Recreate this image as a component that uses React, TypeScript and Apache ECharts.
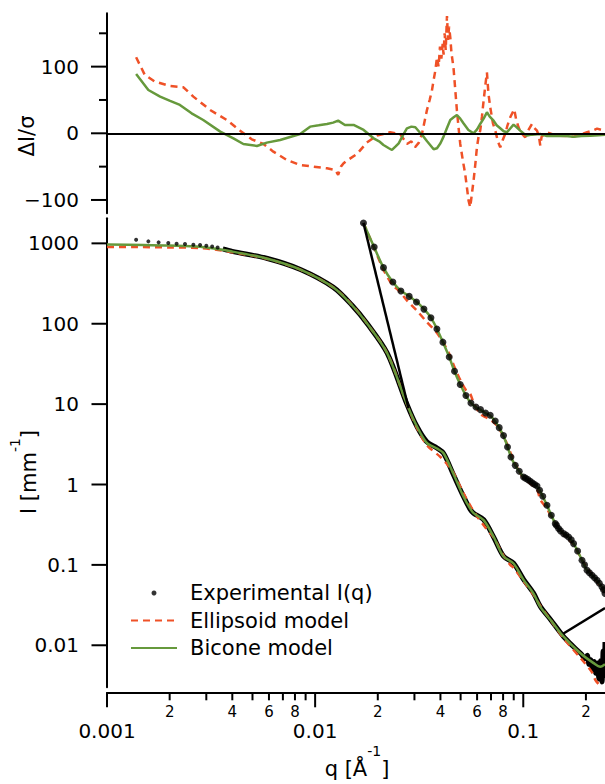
import React, { useEffect, useRef } from "react";
import * as echarts from "echarts";

const FONT = "DejaVu Sans";
const RED = "#ef5127";
const GREEN = "#66993c";
const BLACK = "#000000";

const Q_MIN = 0.001;
const Q_MAX = 0.247;
const I_MIN = 0.003;
const I_MAX = 2050;
const R_MIN = -120;
const R_MAX = 180;

// ---- tick values / labels ----
const qTickValues = [0.001, 0.002, 0.003, 0.004, 0.005, 0.006, 0.007, 0.008, 0.009, 0.01, 0.02, 0.03, 0.04, 0.05, 0.06, 0.07, 0.08, 0.09, 0.1, 0.2];
const qTickLabels = ["0.001", "2", "", "4", "", "6", "", "8", "", "0.01", "2", "", "4", "", "6", "", "8", "", "0.1", "2"];
const qTickMajor = [true, false, false, false, false, false, false, false, false, true, false, false, false, false, false, false, false, false, true, false];

const iTickValues = [1000, 100, 10, 1, 0.1, 0.01];
const iTickLabels = ["1000", "100", "10", "1", "0.1", "0.01"];

const rTickValues = [150, 100, 50, 0, -50, -100];
const rTickLabels = ["", "100", "", "0", "", "\u2212100"];

// ---- residuals ΔI/σ (q, value) ----
const biconeResidual: [number, number][] = [
  [0.00138, 89], [0.00158, 65], [0.0018, 55], [0.00201, 48.5], [0.00224, 42.5], [0.00255, 30], [0.0029, 20],
  [0.0035, 2.5], [0.00405, -7.5], [0.00452, -16], [0.00525, -19], [0.00586, -14], [0.00679, -10], [0.00847, -1],
  [0.00946, 10], [0.0104, 12], [0.0114, 14], [0.0122, 16], [0.0129, 19], [0.0139, 12.5], [0.0153, 12.5],
  [0.0171, 5], [0.0191, -7.5], [0.0203, -12], [0.0213, -17.5], [0.0225, -22], [0.0234, -25], [0.0243, -20],
  [0.0252, -15], [0.0264, -3], [0.0276, 7.5], [0.029, 10], [0.0303, 9], [0.0317, 2], [0.0332, -5], [0.0345, -12],
  [0.0357, -17.5], [0.0371, -24], [0.0385, -22.5], [0.04, -15], [0.0414, -5], [0.043, 8], [0.0446, 20],
  [0.0463, 24], [0.048, 27.5], [0.0498, 22], [0.0516, 15], [0.0545, 5], [0.0577, 0], [0.06, 6], [0.0621, 14],
  [0.0645, 22], [0.0669, 31.5], [0.069, 25], [0.072, 19], [0.0745, 12], [0.0775, 7.5], [0.0805, 3], [0.0835, 1.5],
  [0.087, 8], [0.0898, 13], [0.093, 9], [0.0967, 4], [0.1, 0], [0.1042, -3.5], [0.11, -2], [0.1207, -1],
  [0.13, -4], [0.1452, -3.5], [0.16, -4], [0.1745, -5], [0.19, -4], [0.21, -3.5], [0.23, -3], [0.247, -2],
];

const ellipsoidResidual: [number, number][] = [
  [0.00138, 114], [0.00152, 87.5], [0.0017, 77.5], [0.00201, 71], [0.00233, 69], [0.0026, 55], [0.00313, 35],
  [0.00376, 20], [0.00436, 4], [0.00496, -9], [0.00564, -16], [0.0063, -27.5], [0.00731, -40], [0.00847, -47.5],
  [0.00981, -50], [0.0114, -52.5], [0.0125, -55], [0.0129, -62.5], [0.0133, -50], [0.0137, -45], [0.0142, -41],
  [0.0159, -31], [0.0177, -14], [0.0198, -3.5], [0.0229, 1.5], [0.0256, -1], [0.0276, -16], [0.029, -12],
  [0.0302, -21], [0.0315, -14], [0.0326, -1], [0.0344, 34], [0.0355, 50], [0.0364, 64], [0.0371, 80],
  [0.0378, 94], [0.0385, 114], [0.0392, 100], [0.0398, 130], [0.0404, 112], [0.041, 134], [0.0414, 118],
  [0.0419, 150], [0.0424, 125], [0.043, 176], [0.0435, 140], [0.044, 160], [0.0446, 144], [0.0452, 120],
  [0.0462, 99], [0.047, 70], [0.048, 34], [0.049, 5], [0.0498, -16], [0.0512, -40], [0.0526, -61], [0.0538, -85],
  [0.0546, -101], [0.0556, -111], [0.0567, -90], [0.0577, -71], [0.0589, -45], [0.0599, -21], [0.061, -5],
  [0.0621, 4], [0.0633, 25], [0.0645, 49], [0.0656, 70], [0.0669, 91.5], [0.068, 60], [0.0694, 39], [0.0715, 15],
  [0.0734, 4], [0.0755, -12], [0.0775, -21], [0.0797, -10], [0.0819, -1], [0.084, 12], [0.0866, 24], [0.0885, 30],
  [0.0905, 36], [0.0925, 20], [0.0949, 9], [0.098, 0], [0.1022, -6], [0.106, 5], [0.1101, 14], [0.113, 8],
  [0.1164, 4], [0.119, -5], [0.1207, -18.5], [0.1225, -5], [0.13, 1.5], [0.14, -2], [0.1506, -3.5], [0.162, -4],
  [0.1745, -5], [0.188, -2], [0.2025, 1.5], [0.215, 4], [0.2262, 7], [0.238, 5], [0.247, 5.5],
];

// ---- intensity I(q) [mm^-1] ----
const experimentalLowQ: [number, number][] = [
  [0.00138, 1112], [0.00158, 1059], [0.00177, 1029], [0.00197, 1009], [0.00216, 991], [0.00237, 980],
  [0.0026, 963], [0.0028, 952], [0.003, 935], [0.0032, 915], [0.0034, 890],
];

const experimentalDense: [number, number][] = [
  [0.0036, 855], [0.004, 795], [0.0059, 648], [0.0085, 473], [0.0122, 285], [0.015, 171], [0.0178, 100],
  [0.0222, 43], [0.0276, 10], [0.0308, 5.3], [0.0344, 3.4], [0.0385, 2.85], [0.0414, 2.45], [0.0462, 1.32],
  [0.0516, 0.71], [0.0556, 0.49], [0.0577, 0.44], [0.0645, 0.365], [0.072, 0.222], [0.0804, 0.128],
  [0.0898, 0.105], [0.1003, 0.066], [0.112, 0.0445], [0.1207, 0.0305], [0.1354, 0.0208], [0.1562, 0.0128],
  [0.175, 0.0095], [0.19, 0.0078], [0.198, 0.0068], [0.203, 0.0075], [0.207, 0.0058], [0.211, 0.0066],
  [0.215, 0.005], [0.219, 0.0063], [0.223, 0.0045], [0.227, 0.006], [0.231, 0.0038], [0.235, 0.0064],
  [0.239, 0.0035], [0.242, 0.0085], [0.245, 0.0042], [0.247, 0.011],
];

const ellipsoidModel: [number, number][] = [
  [0.001, 900], [0.0014, 900], [0.002, 890], [0.0028, 875], [0.004, 775], [0.0059, 640], [0.0085, 470],
  [0.0122, 285], [0.015, 172], [0.0178, 100], [0.0222, 43], [0.0276, 10], [0.0308, 5.1], [0.0344, 3.1],
  [0.04, 2.2], [0.043, 1.8], [0.0462, 1.4], [0.0516, 0.78], [0.0563, 0.52], [0.06, 0.4], [0.0659, 0.29],
  [0.072, 0.22], [0.0804, 0.13], [0.0866, 0.1], [0.0898, 0.092], [0.1003, 0.063], [0.1146, 0.039],
  [0.1207, 0.031], [0.1354, 0.0205], [0.1562, 0.0122], [0.1888, 0.0069], [0.214, 0.0046], [0.222, 0.0037],
  [0.235, 0.0031],
];

const biconeModel: [number, number][] = [
  [0.001, 965], [0.0015, 955], [0.002, 940], [0.0028, 905], [0.004, 790], [0.0059, 645], [0.0085, 472],
  [0.0122, 284], [0.015, 171], [0.0178, 100], [0.0222, 43], [0.0276, 10], [0.0308, 5.3], [0.0344, 3.3],
  [0.0385, 2.8], [0.0414, 2.45], [0.0462, 1.35], [0.0516, 0.71], [0.0556, 0.5], [0.0577, 0.44], [0.0645, 0.36],
  [0.072, 0.224], [0.0804, 0.127], [0.0898, 0.104], [0.1003, 0.065], [0.112, 0.044], [0.1207, 0.03],
  [0.1354, 0.0206], [0.1562, 0.0128], [0.1888, 0.0079], [0.2178, 0.006], [0.2345, 0.0054], [0.247, 0.0058],
];

// ---- magnified high-q copy (inset) ----
const insetExperimental: [number, number][] = [
  [0.01707, 1788], [0.01922, 900], [0.0213, 499], [0.02363, 330], [0.02582, 255], [0.02831, 219], [0.03069, 186],
  [0.03332, 152], [0.036, 119], [0.03847, 86], [0.04111, 59], [0.04408, 38.5], [0.04674, 25.6], [0.04978, 17.5],
  [0.05303, 12.8], [0.05605, 10.3], [0.05924, 9.2], [0.06233, 8.54], [0.06589, 7.75], [0.06939, 7.26],
  [0.07335, 6.16], [0.07664, 5.1], [0.08038, 4.06], [0.08402, 2.93], [0.08727, 2.2], [0.09153, 1.73],
  [0.09567, 1.46], [0.1003, 1.24], [0.1025, 1.2], [0.1053, 1.15], [0.108, 1.1], [0.1108, 1.04], [0.1135, 1.0],
  [0.1164, 0.958], [0.1198, 0.847], [0.1241, 0.713], [0.13, 0.551], [0.1364, 0.414], [0.1425, 0.326],
  [0.1445, 0.31], [0.1478, 0.283], [0.151, 0.265], [0.1562, 0.245], [0.1605, 0.235], [0.1651, 0.222],
  [0.17, 0.205], [0.1745, 0.184], [0.1824, 0.149], [0.1915, 0.114], [0.197, 0.1], [0.2025, 0.0857],
  [0.208, 0.08], [0.214, 0.0742], [0.22, 0.069], [0.2262, 0.0643], [0.232, 0.059], [0.239, 0.0531],
  [0.243, 0.049], [0.247, 0.044],
];

const insetBicone: [number, number][] = [
  [0.01707, 1790], [0.0192, 900], [0.0213, 499], [0.0236, 330], [0.0258, 258], [0.0283, 220], [0.0307, 188],
  [0.0333, 153], [0.036, 119], [0.0385, 86], [0.0411, 59], [0.0441, 38.5], [0.0467, 25.6], [0.0498, 17.5],
  [0.053, 12.8], [0.056, 10.4], [0.0592, 9.1], [0.0623, 8.5], [0.0659, 7.7], [0.0694, 7.2], [0.0733, 6.1],
  [0.0766, 5.1], [0.0804, 4.0], [0.084, 2.95], [0.0873, 2.2], [0.0915, 1.73], [0.0957, 1.46], [0.1003, 1.24],
  [0.1053, 1.14], [0.1108, 1.04], [0.1164, 0.95], [0.1198, 0.85], [0.1241, 0.71], [0.13, 0.55], [0.1364, 0.414],
  [0.1425, 0.326], [0.1478, 0.283], [0.1562, 0.245], [0.1651, 0.222], [0.1745, 0.184], [0.1824, 0.149],
  [0.1915, 0.114], [0.2025, 0.0857], [0.214, 0.0742], [0.2262, 0.0643], [0.239, 0.053], [0.247, 0.046],
];

const insetEllipsoid: [number, number][] = [
  [0.01707, 1790], [0.0192, 880], [0.0213, 470], [0.0236, 300], [0.0252, 260], [0.0276, 195], [0.0305, 150],
  [0.0344, 105], [0.038, 80], [0.041, 60], [0.0441, 42], [0.0467, 29], [0.0498, 20], [0.053, 15], [0.0556, 13.5],
  [0.058, 10], [0.0623, 7.5], [0.0659, 6.9], [0.0694, 6.4], [0.0733, 5.7], [0.0766, 4.9], [0.0804, 4.0],
  [0.084, 3.1], [0.0873, 2.4], [0.0915, 1.8], [0.0957, 1.45], [0.1003, 1.2], [0.1053, 1.08], [0.1108, 0.98],
  [0.1164, 0.88], [0.1207, 0.65], [0.13, 0.5], [0.1354, 0.41], [0.1425, 0.33], [0.1598, 0.226], [0.1745, 0.18],
  [0.1915, 0.115], [0.2062, 0.0857], [0.214, 0.075], [0.2262, 0.062], [0.247, 0.045],
];

// zoom connector lines (main curve -> magnified copy)
const connectorUpper: [number, number][] = [[0.0281, 8.9], [0.01707, 1790]];
const connectorLower: [number, number][] = [[0.156, 0.014], [0.247, 0.029]];

const tickStyle = { stroke: BLACK, lineWidth: 2 };

function renderQTicks(params: any, api: any) {
  const i = params.dataIndex;
  const p = api.coord([qTickValues[i], I_MIN]);
  const y0 = p[1] + 5;
  const major = qTickMajor[i];
  const children: any[] = [
    { type: "line", shape: { x1: p[0], y1: y0, x2: p[0], y2: y0 + (major ? 15 : 8) }, style: tickStyle },
  ];
  if (qTickLabels[i]) {
    children.push({
      type: "text",
      x: p[0],
      y: y0 + (major ? 39 : 20),
      style: {
        text: qTickLabels[i],
        fontSize: major ? 20 : 15,
        fontFamily: FONT,
        fill: BLACK,
        align: "center",
        verticalAlign: "middle",
      },
    });
  }
  return { type: "group", children };
}

function renderITicks(params: any, api: any) {
  const i = params.dataIndex;
  const p = api.coord([Q_MIN, iTickValues[i]]);
  return {
    type: "group",
    children: [
      { type: "line", shape: { x1: p[0] - 15.5, y1: p[1], x2: p[0], y2: p[1] }, style: tickStyle },
      {
        type: "text",
        x: p[0] - 28,
        y: p[1],
        style: { text: iTickLabels[i], fontSize: 20, fontFamily: FONT, fill: BLACK, align: "right", verticalAlign: "middle" },
      },
    ],
  };
}

function renderRTicks(params: any, api: any) {
  const i = params.dataIndex;
  const p = api.coord([Q_MIN, rTickValues[i]]);
  const major = rTickLabels[i] !== "";
  const children: any[] = [
    { type: "line", shape: { x1: p[0] - (major ? 16 : 8), y1: p[1], x2: p[0], y2: p[1] }, style: tickStyle },
  ];
  if (major) {
    children.push({
      type: "text",
      x: p[0] - 28,
      y: p[1],
      style: { text: rTickLabels[i], fontSize: 20, fontFamily: FONT, fill: BLACK, align: "right", verticalAlign: "middle" },
    });
  }
  return { type: "group", children };
}

const hiddenAxisParts = {
  axisTick: { show: false },
  axisLabel: { show: false },
  splitLine: { show: false },
  minorTick: { show: false },
  minorSplitLine: { show: false },
};

export default function App() {
  const ref = useRef<HTMLDivElement>(null);

  useEffect(() => {
    if (!ref.current) return;
    const chart = echarts.init(ref.current, undefined, { renderer: "svg" });
    const axisLine = { show: true, onZero: false, lineStyle: { color: BLACK, width: 2 } };

    const option: any = {
      animation: false,
      backgroundColor: "#ffffff",
      textStyle: { fontFamily: FONT },
      grid: [
        { left: 107, right: 0, top: 13.3, height: 200 },
        { left: 107, right: 0, top: 218.3, height: 469 },
      ],
      xAxis: [
        { type: "log", logBase: 10, gridIndex: 0, min: Q_MIN, max: Q_MAX, axisLine: { show: false }, ...hiddenAxisParts },
        { type: "log", logBase: 10, gridIndex: 1, min: Q_MIN, max: Q_MAX, offset: 5, axisLine, ...hiddenAxisParts },
      ],
      yAxis: [
        { type: "value", gridIndex: 0, min: R_MIN, max: R_MAX, axisLine, ...hiddenAxisParts },
        { type: "log", logBase: 10, gridIndex: 1, min: I_MIN, max: I_MAX, axisLine, ...hiddenAxisParts },
      ],
      legend: {
        orient: "vertical",
        left: 130,
        top: 582,
        padding: 0,
        itemWidth: 46,
        itemHeight: 5,
        itemGap: 5.5,
        selectedMode: false,
        data: [
          { name: "Experimental I(q)", icon: "circle" },
          { name: "Ellipsoid model", itemStyle: { opacity: 0 } },
          { name: "Bicone model", itemStyle: { opacity: 0 } },
        ],
        textStyle: { fontFamily: FONT, fontSize: 21, color: BLACK, lineHeight: 22, padding: [0, 0, 0, 8] },
      },
      graphic: [
        {
          type: "text",
          x: 27,
          y: 136,
          rotation: Math.PI / 2,
          style: { text: "\u0394I/\u03c3", fontSize: 21, fontFamily: FONT, fill: BLACK, align: "center", verticalAlign: "middle" },
        },
        {
          type: "text",
          x: 29,
          y: 472,
          rotation: Math.PI / 2,
          style: {
            text: "I [mm{sup|-1}]",
            fontSize: 21,
            fontFamily: FONT,
            fill: BLACK,
            lineHeight: 42,
            align: "center",
            verticalAlign: "middle",
            rich: { sup: { fontSize: 14, fontFamily: FONT, fill: BLACK, lineHeight: 14, verticalAlign: "top" } },
          },
        },
        {
          type: "text",
          x: 357,
          y: 769,
          style: {
            text: "q [\u00c5{sup|-1}]",
            fontSize: 21,
            fontFamily: FONT,
            fill: BLACK,
            lineHeight: 50,
            align: "center",
            verticalAlign: "middle",
            rich: { sup: { fontSize: 14, fontFamily: FONT, fill: BLACK, lineHeight: 14, verticalAlign: "top" } },
          },
        },
      ],
      series: [
        // residual panel
        {
          name: "Ellipsoid residual",
          type: "line",
          xAxisIndex: 0,
          yAxisIndex: 0,
          data: ellipsoidResidual,
          symbol: "none",
          lineStyle: { color: RED, width: 2.5, type: [7, 5] },
          itemStyle: { color: RED },
          z: 3,
        },
        {
          name: "Bicone residual",
          type: "line",
          xAxisIndex: 0,
          yAxisIndex: 0,
          data: biconeResidual,
          symbol: "none",
          lineStyle: { color: GREEN, width: 2.5 },
          itemStyle: { color: GREEN },
          z: 4,
          markLine: {
            silent: true,
            symbol: ["none", "none"],
            label: { show: false },
            lineStyle: { color: BLACK, width: 2, type: "solid" },
            data: [{ yAxis: 0 }],
          },
        },
        // intensity panel
        {
          name: "Experimental (dense)",
          type: "line",
          xAxisIndex: 1,
          yAxisIndex: 1,
          data: experimentalDense,
          symbol: "none",
          smooth: 0.3,
          lineStyle: { color: BLACK, width: 5 },
          itemStyle: { color: BLACK },
          z: 2,
        },
        {
          name: "Experimental I(q)",
          type: "scatter",
          xAxisIndex: 1,
          yAxisIndex: 1,
          data: experimentalLowQ,
          symbol: "circle",
          symbolSize: 4,
          itemStyle: { color: BLACK },
          z: 5,
        },
        {
          name: "Ellipsoid model",
          type: "line",
          xAxisIndex: 1,
          yAxisIndex: 1,
          data: ellipsoidModel,
          symbol: "none",
          smooth: 0.3,
          lineStyle: { color: RED, width: 2.5, type: [7, 5] },
          itemStyle: { color: RED },
          z: 3,
        },
        {
          name: "Bicone model",
          type: "line",
          xAxisIndex: 1,
          yAxisIndex: 1,
          data: biconeModel,
          symbol: "none",
          smooth: 0.3,
          lineStyle: { color: GREEN, width: 2.5 },
          itemStyle: { color: GREEN },
          z: 4,
        },
        {
          name: "Ellipsoid model (magnified)",
          type: "line",
          xAxisIndex: 1,
          yAxisIndex: 1,
          data: insetEllipsoid,
          symbol: "none",
          smooth: 0.3,
          lineStyle: { color: RED, width: 2.5, type: [7, 5] },
          itemStyle: { color: RED },
          z: 3,
        },
        {
          name: "Bicone model (magnified)",
          type: "line",
          xAxisIndex: 1,
          yAxisIndex: 1,
          data: insetBicone,
          symbol: "none",
          smooth: 0.3,
          lineStyle: { color: GREEN, width: 2.5 },
          itemStyle: { color: GREEN },
          z: 4,
        },
        {
          name: "Experimental (magnified)",
          type: "scatter",
          xAxisIndex: 1,
          yAxisIndex: 1,
          data: insetExperimental,
          symbol: "circle",
          symbolSize: 7,
          itemStyle: { color: BLACK },
          z: 5,
        },
        {
          name: "Connector upper",
          type: "line",
          xAxisIndex: 1,
          yAxisIndex: 1,
          data: connectorUpper,
          symbol: "none",
          lineStyle: { color: BLACK, width: 2.5 },
          z: 6,
        },
        {
          name: "Connector lower",
          type: "line",
          xAxisIndex: 1,
          yAxisIndex: 1,
          data: connectorLower,
          symbol: "none",
          lineStyle: { color: BLACK, width: 2.5 },
          z: 6,
        },
        // axis ticks & labels
        {
          name: "q ticks",
          type: "custom",
          xAxisIndex: 1,
          yAxisIndex: 1,
          silent: true,
          clip: false,
          data: qTickValues.map((q) => [q, I_MIN]),
          renderItem: renderQTicks,
          z: 10,
        },
        {
          name: "I ticks",
          type: "custom",
          xAxisIndex: 1,
          yAxisIndex: 1,
          silent: true,
          clip: false,
          data: iTickValues.map((v) => [Q_MIN, v]),
          renderItem: renderITicks,
          z: 10,
        },
        {
          name: "residual ticks",
          type: "custom",
          xAxisIndex: 0,
          yAxisIndex: 0,
          silent: true,
          clip: false,
          data: rTickValues.map((v) => [Q_MIN, v]),
          renderItem: renderRTicks,
          z: 10,
        },
      ],
    };

    chart.setOption(option);
    return () => chart.dispose();
  }, []);

  return (
    <div
      ref={ref}
      style={{ position: "fixed", left: 0, top: 0, width: 605, height: 784, background: "#fff" }}
    />
  );
}
